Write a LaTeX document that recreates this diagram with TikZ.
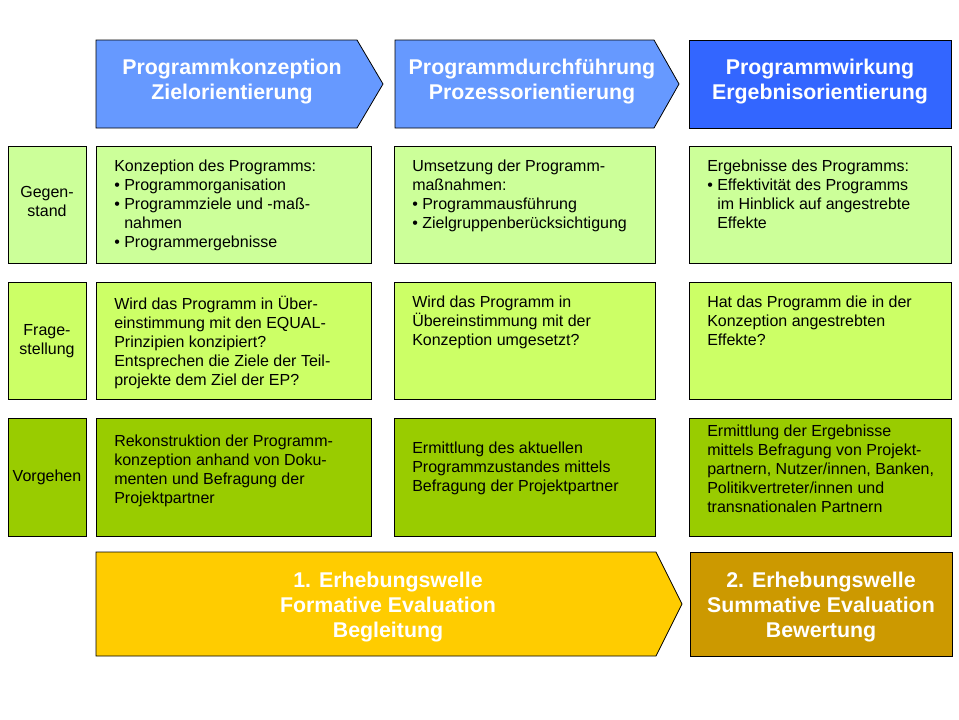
\documentclass[tikz,border=0pt]{standalone}
\usepackage{fontspec}
\setmainfont{Liberation Sans}
\definecolor{blueL}{HTML}{6699FF}
\definecolor{blueD}{HTML}{3366FF}
\definecolor{greenA}{HTML}{CCFF99}
\definecolor{greenB}{HTML}{CCFF66}
\definecolor{greenC}{HTML}{99CC00}
\definecolor{goldL}{HTML}{FFCC00}
\definecolor{goldD}{HTML}{CC9900}

\begin{document}
\begin{tikzpicture}[x=0.75pt, y=-0.75pt,
  frame/.style={draw=black, line width=0.6pt},
  head/.style={text=white, align=center, inner sep=0pt, font=\bfseries\fontsize{16}{18.75}\selectfont},
  cell/.style={anchor=north west, align=left, inner sep=0pt, execute at begin node=\strut, font=\fontsize{12}{14.25}\selectfont},
  rowname/.style={align=center, inner sep=0pt, font=\fontsize{12}{14.25}\selectfont}]
  \useasboundingbox (0,0) rectangle (959,719);

  % header arrows
  \filldraw[frame, fill=blueL] (96,40) -- (357,40) -- (383,84) -- (357,128) -- (96,128) -- cycle;
  \filldraw[frame, fill=blueL] (395,40) -- (654,40) -- (679,84) -- (654,128) -- (395,128) -- cycle;
  \filldraw[frame, fill=blueD] (689,40) rectangle (951,128);
  \node[head] (konz) at (232,82) {Programmkonzeption\\Zielorientierung};
  \node[head] (durch) at (532,82) {Programmdurchführung\\Prozessorientierung};
  \node[head] (wirk) at (820,82) {Programmwirkung\\Ergebnisorientierung};

  % row 1
  \filldraw[frame, fill=greenA] (8,146) rectangle (86,263);
  \filldraw[frame, fill=greenA] (96,146) rectangle (371,263);
  \filldraw[frame, fill=greenA] (394,146) rectangle (655,263);
  \filldraw[frame, fill=greenA] (689,146) rectangle (951,263);
  \node[rowname] (gegen) at (47,201) {Gegen-\\stand};
  \node[cell] (gegen1) at (114,160) {Konzeption des Programms:\\
    \textbullet\ Programmorganisation\\
    \textbullet\ Programmziele und -maß-\\
    \hphantom{\textbullet\ }nahmen\\
    \textbullet\ Programmergebnisse};
  \node[cell] (gegen2) at (412,160) {Umsetzung der Programm-\\
    maßnahmen:\\
    \textbullet\ Programmausführung\\
    \textbullet\ Zielgruppenberücksichtigung};
  \node[cell] (gegen3) at (707,160) {Ergebnisse des Programms:\\
    \textbullet\ Effektivität des Programms\\
    \hphantom{\textbullet\ }im Hinblick auf angestrebte\\
    \hphantom{\textbullet\ }Effekte};

  % row 2
  \filldraw[frame, fill=greenB] (8,282) rectangle (86,399);
  \filldraw[frame, fill=greenB] (96,282) rectangle (371,399);
  \filldraw[frame, fill=greenB] (394,282) rectangle (655,399);
  \filldraw[frame, fill=greenB] (689,282) rectangle (951,399);
  \node[rowname] (frage) at (47,341) {Frage-\\stellung};
  \node[cell] (frage1) at (114,296) {Wird das Programm in Über-\\
    einstimmung mit den EQUAL-\\
    Prinzipien konzipiert?\\
    Entsprechen die Ziele der Teil-\\
    projekte dem Ziel der EP?};
  \node[cell] (frage2) at (412,296) {Wird das Programm in\\
    Übereinstimmung mit der\\
    Konzeption umgesetzt?};
  \node[cell] (frage3) at (707,296) {Hat das Programm die in der\\
    Konzeption angestrebten\\
    Effekte?};

  % row 3
  \filldraw[frame, fill=greenC] (8,418) rectangle (86,536);
  \filldraw[frame, fill=greenC] (96,418) rectangle (371,536);
  \filldraw[frame, fill=greenC] (394,418) rectangle (655,536);
  \filldraw[frame, fill=greenC] (689,418) rectangle (951,536);
  \node[rowname] (vorg) at (47,477) {Vorgehen};
  \node[cell, anchor=west] (vorg1) at (114,472) {Rekonstruktion der Programm-\\
    konzeption anhand von Doku-\\
    menten und Befragung der\\
    Projektpartner};
  \node[cell, anchor=west] (vorg2) at (412,470) {Ermittlung des aktuellen\\
    Programmzustandes mittels\\
    Befragung der Projektpartner};
  \node[cell, anchor=west] (vorg3) at (707,472) {Ermittlung der Ergebnisse\\
    mittels Befragung von Projekt-\\
    partnern, Nutzer/innen, Banken,\\
    Politikvertreter/innen und\\
    transnationalen Partnern};

  % survey waves
  \filldraw[frame, fill=goldL] (96,552) -- (656,552) -- (682,604) -- (656,656) -- (96,656) -- cycle;
  \filldraw[frame, fill=goldD] (690,552) rectangle (952,656);
  \node[head] (welle1) at (388,607) {1. Erhebungswelle\\Formative Evaluation\\Begleitung};
  \node[head] (welle2) at (821,607) {2. Erhebungswelle\\Summative Evaluation\\Bewertung};
\end{tikzpicture}
\end{document}
